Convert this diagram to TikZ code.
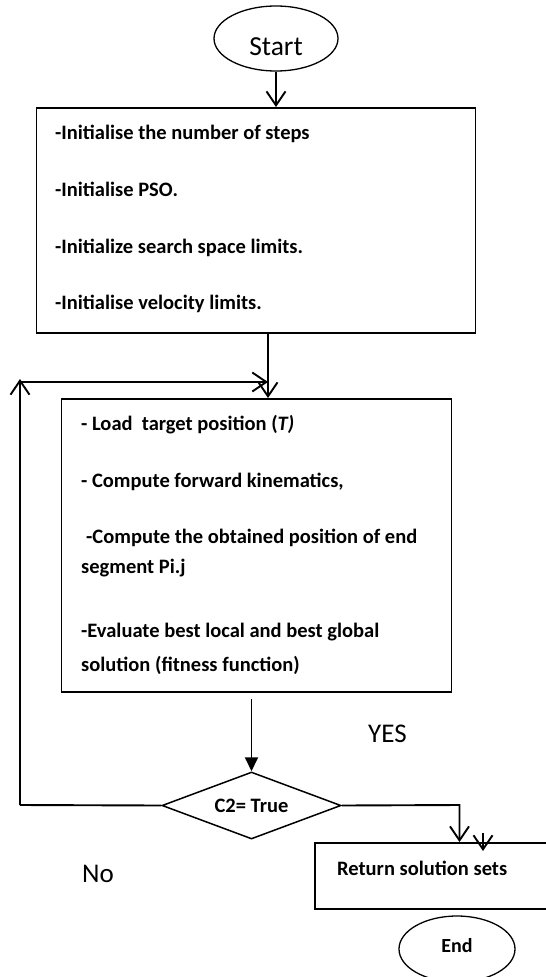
\documentclass[tikz,border=0pt]{standalone}
\usepackage{fontspec}
\setmainfont{Carlito}
\usetikzlibrary{shapes.geometric,arrows.meta}

\begin{document}
\begin{tikzpicture}[x=1pt, y=-1pt]
	\tikzstyle{every node} = [inner sep=0pt]
	\tikzstyle{box} = [draw, rectangle, line width=1.9pt]
	\tikzstyle{term} = [draw, ellipse, line width=1.3pt]
	\tikzstyle{txt} = [anchor=base west, font=\fontsize{20.5}{24}\selectfont\bfseries]
	\tikzstyle{big} = [anchor=base west, font=\fontsize{27}{32}\selectfont]
	\tikzstyle{varrow} = [-{Straight Barb[length=14pt, width=19pt, line width=1.9pt]}, line width=1.9pt]
	\tikzstyle{farrow} = [-{Triangle[length=14pt, width=13pt]}, line width=1.9pt]
	\useasboundingbox (0,0) rectangle (546,977);
	\node [term, minimum width=124pt, minimum height=65pt, font=\fontsize{27.5}{32}\selectfont, text height=33pt, text depth=0pt] (start) at (276, 38.5) {Start\hspace{16pt}};
	\node [box, minimum width=439pt, minimum height=225pt] (init) at (256, 220.5) {};
	\node [txt] (i1) at (55, 139) {-Initialise the number of steps};
	\node [txt] (i2) at (55, 196) {-Initialise PSO.};
	\node [txt] (i3) at (55, 253) {-Initialize search space limits.};
	\node [txt] (i4) at (55, 309) {-Initialise velocity limits.};
	\node [box, minimum width=390pt, minimum height=293pt] (eval) at (256.5, 545.5) {};
	\node [txt] (e1) at (81, 430) {- Load\ \ target position (\textit{T)}};
	\node [txt] (e2) at (81, 487) {- Compute forward kinematics,};
	\node [txt] (e3) at (86, 543) {-Compute the obtained position of end};
	\node [txt] (e4) at (81, 573) {segment Pi.j};
	\node [txt] (e5) at (81, 637) {-Evaluate best local and best global};
	\node [txt] (e6) at (81, 671) {solution (fitness function)};
	\node [draw, diamond, aspect=2.8, line width=1.5pt, minimum width=179pt, minimum height=67pt, font=\fontsize{20.5}{24}\selectfont\bfseries] (cond) at (251.5, 805.5) {C2= True};
	\node [box, minimum width=240pt, minimum height=66pt] (ret) at (435, 876) {};
	\node [txt] (rt) at (337, 875) {Return solution sets};
	\node [term, minimum width=116pt, minimum height=66pt, font=\fontsize{20}{24}\selectfont\bfseries, text depth=7pt] (end) at (457, 949) {End\hspace{18pt}};
	\node [big] (yes) at (368, 742) {YES};
	\node [big] (no) at (82, 882) {No};
	\coordinate (join) at (268, 382);
	\coordinate (loopt) at (20, 379);
	\coordinate (loopl) at (20, 805);
	\coordinate (loopc) at (20, 382);
	\coordinate (yesc) at (459.5, 805);
	\coordinate (stub) at (483, 833);
	\coordinate (stubend) at (483, 851);
	\draw [varrow] (start.south) -- (init.north -| start.south);
	\draw [varrow] (init.south -| join) -- (eval.north -| join);
	\draw [farrow, shorten <=6pt] (eval.south -| cond.north) -- (cond.north);
	\draw [line width=1.9pt] (cond.west) -- (loopl);
	\draw [varrow] (loopl) -- (loopt);
	\draw [varrow] (loopc) -- (join);
	\draw [varrow] (cond.east) -- (yesc) -- (yesc |- ret.north);
	\draw [varrow] (stub) -- (stubend);
\end{tikzpicture}
\end{document}
